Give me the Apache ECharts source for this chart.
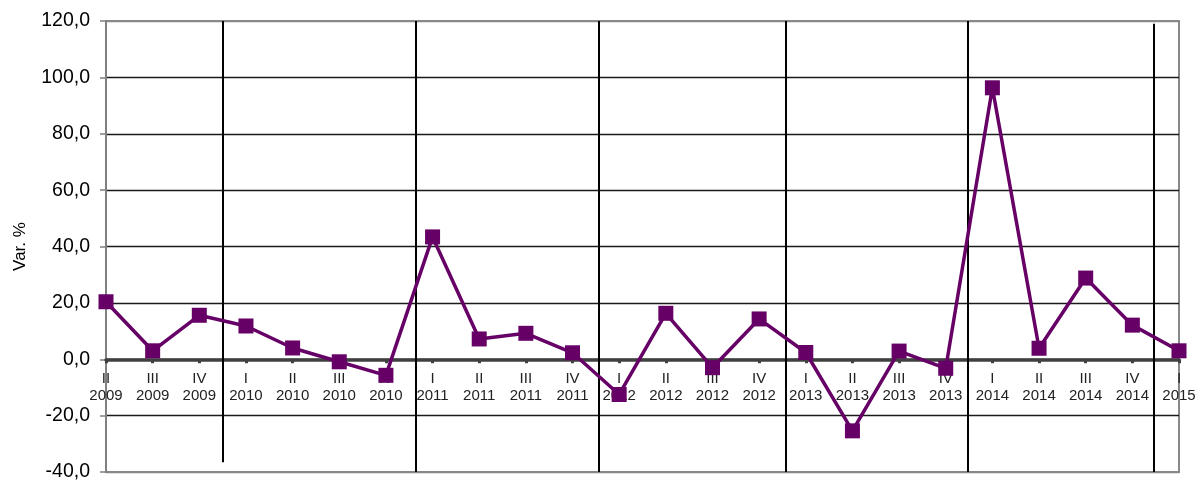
<!DOCTYPE html>
<html>
<head>
<meta charset="utf-8">
<style>
  html, body { margin: 0; padding: 0; background: #fff; }
  #chart { width: 1196px; height: 481px; }
</style>
<script src="https://cdn.jsdelivr.net/npm/echarts@6/dist/echarts.min.js"></script>
</head>
<body>
<div id="chart"></div>
<script>
// Quarter / year categories
const quarters = ['II','III','IV','I','II','III','IV','I','II','III','IV','I','II','III','IV','I','II','III','IV','I','II','III','IV','I'];
const years = ['2009','2009','2009','2010','2010','2010','2010','2011','2011','2011','2011','2012','2012','2012','2012','2013','2013','2013','2013','2014','2014','2014','2014','2015'];
// Var. % values
const values = [20.4, 3.0, 15.6, 11.8, 4.0, -0.9, -5.7, 43.4, 7.2, 9.2, 2.3, -12.5, 16.3, -3.0, 14.3, 2.4, -25.4, 2.9, -3.2, 96.3, 3.9, 28.8, 12.1, 3.0];
// Y ticks
const yTicks = [-40, -20, 0, 20, 40, 60, 80, 100, 120];
// Year separator lines (position in category index units, y start, y end)
const sepAt = [2.51, 6.63, 10.56, 14.57, 18.48, 22.45];
const sepFrom = [-36.5, -40, -40, -40, -40, -40];
const sepTo = [120, 120, 120, 120, 120, 119];

const categories = quarters.map((q, i) => q + '\n' + years[i]);
const FONT = '"Liberation Sans", Arial, sans-serif';

const GRID = { left: 106, right: 17, top: 21, bottom: 9 };
const yMin = yTicks[0], yMax = yTicks[yTicks.length - 1];
const plotH = 481 - GRID.top - GRID.bottom;
const zeroOffset = -plotH * (0 - yMin) / (yMax - yMin);

const chart = echarts.init(document.getElementById('chart'), null, { renderer: 'canvas' });
chart.setOption({
  animation: false,
  backgroundColor: '#fff',
  grid: Object.assign({ show: true, borderColor: '#888', borderWidth: 2, backgroundColor: 'transparent', containLabel: false, outerBoundsMode: 'none' }, GRID),
  xAxis: [
    {
      type: 'category',
      data: categories,
      boundaryGap: false,
      position: 'bottom',
      offset: zeroOffset,
      axisLine: { onZero: false, lineStyle: { color: '#404040', width: 3.5 } },
      axisTick: { show: true, length: 4, lineStyle: { color: '#404040', width: 3 }, interval: 0 },
      axisLabel: { interval: 0, color: '#222', fontFamily: FONT, fontSize: 15, lineHeight: 17, margin: 11 },
      splitLine: { show: false },
      z: 3
    },
    {
      type: 'value',
      min: 0, max: quarters.length - 1,
      show: false
    }
  ],
  yAxis: {
    type: 'value',
    min: yMin, max: yMax, interval: 20,
    name: 'Var. %',
    nameLocation: 'middle',
    nameGap: 77,
    nameRotate: 90,
    nameTextStyle: { color: '#000', fontFamily: FONT, fontSize: 17 },
    axisLine: { show: true, onZero: false, lineStyle: { color: '#808080', width: 2 } },
    axisTick: { show: true, length: 6, lineStyle: { color: '#808080', width: 1.5 } },
    axisLabel: {
      color: '#000', fontFamily: FONT, fontSize: 19.5, margin: 16,
      formatter: v => v.toFixed(1).replace('.', ',')
    },
    splitLine: { show: true, lineStyle: { color: ['#888','#1a1a1a','#1a1a1a','#1a1a1a','#1a1a1a','#1a1a1a','#1a1a1a','#1a1a1a','#888'], width: 1.3 } }
  },
  series: [
    {
      type: 'line',
      xAxisIndex: 1,
      data: [],
      silent: true,
      z: 1,
      markLine: {
        silent: true,
        symbol: 'none',
        animation: false,
        label: { show: false },
        lineStyle: { color: '#000', width: 2, type: 'solid' },
        data: sepAt.map((x, i) => [{ coord: [x, sepFrom[i]] }, { coord: [x, sepTo[i]] }])
      }
    },
    {
      type: 'line',
      xAxisIndex: 0,
      data: values,
      symbol: 'rect',
      symbolSize: 15,
      showAllSymbol: true,
      itemStyle: { color: '#660066' },
      lineStyle: { color: '#660066', width: 3.5 },
      z: 5
    }
  ]
});
</script>
</body>
</html>
